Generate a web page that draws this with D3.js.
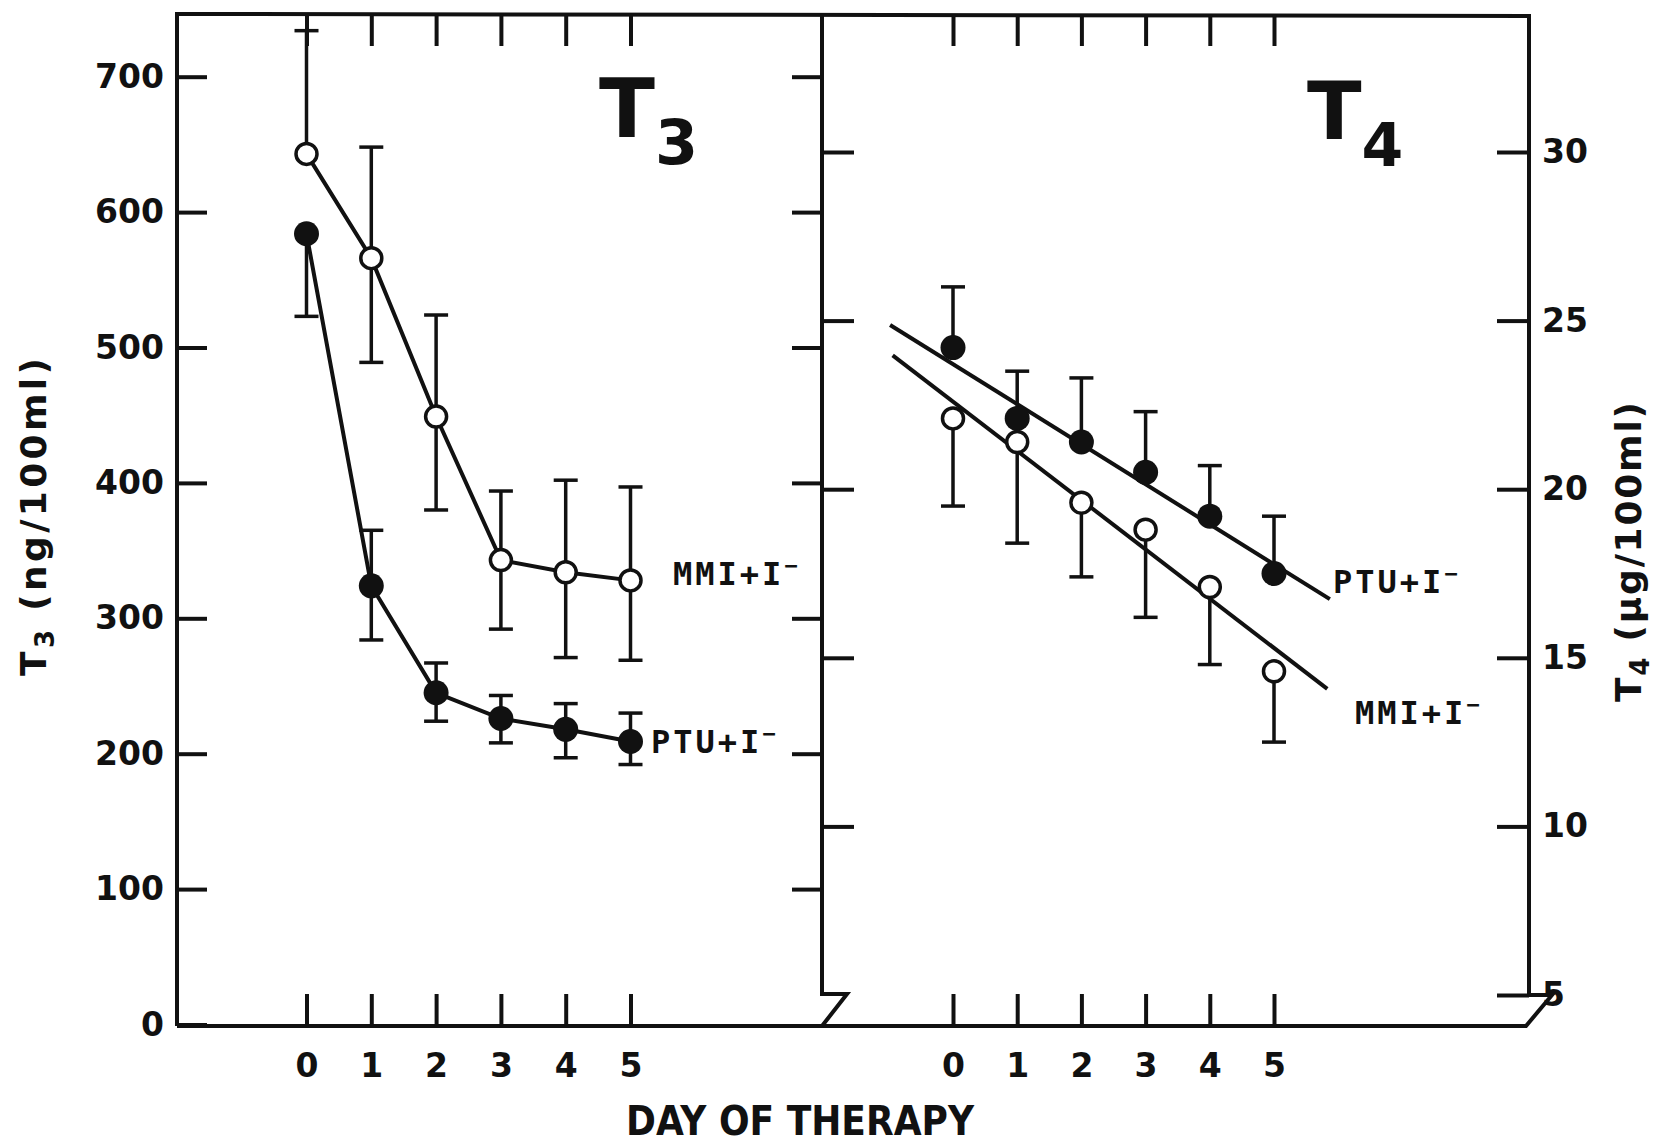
<!DOCTYPE html>
<meta charset="utf-8">
<style>
  body { margin: 0; background: #fff; }
  svg { display: block; }
  .axis text { font-family: "DejaVu Sans", sans-serif; font-weight: bold; font-size: 33px; fill: #111; }
  .axis line { stroke: #111; stroke-width: 4px; }
  .axis .domain { display: none; }
  .frame { fill: none; stroke: #111; stroke-width: 4px; }
  .curve { fill: none; stroke: #111; stroke-width: 4px; }
  .bar { stroke: #111; stroke-width: 3.5px; }
  .lab { font-family: "DejaVu Sans Mono", monospace; font-weight: bold; font-size: 32px; letter-spacing: 3px; fill: #111; }
  .big { font-family: "DejaVu Sans", sans-serif; font-weight: bold; fill: #111; }
</style>
<body></body>
<script src="https://d3js.org/d3.v7.min.js"></script>
<script>
  var days = [0, 1, 2, 3, 4, 5];

  // T3 panel (ng/100ml)
  var t3MMI = [643, 566, 449, 343, 334, 328];
  var t3MMIHi = [734, 648, 524, 394, 402, 397];
  var t3MMILo = [null, 489, 380, 292, 271, 269];
  var t3PTU = [584, 324, 245, 226, 218, 209];
  var t3PTUHi = [null, 365, 267, 243, 237, 230];
  var t3PTULo = [523, 284, 224, 208, 197, 192];
  var t3Ticks = [0, 100, 200, 300, 400, 500, 600, 700];

  // T4 panel (ug/100ml)
  var t4PTU = [24.2, 22.1, 21.4, 20.5, 19.2, 17.5];
  var t4PTUHi = [26.0, 23.5, 23.3, 22.3, 20.7, 19.2];
  var t4MMI = [22.1, 21.4, 19.6, 18.8, 17.1, 14.6];
  var t4MMILo = [19.5, 18.4, 17.4, 16.2, 14.8, 12.5];
  var t4Ticks = [5, 10, 15, 20, 25, 30];
  // fitted lines as drawn (day, value at each end)
  var t4PTUFitDays = [-0.98, 5.87], t4PTUFitVals = [24.87, 16.74];
  var t4MMIFitDays = [-0.94, 5.83], t4MMIFitVals = [23.97, 14.08];

  var W = 1657, H = 1145;
  var leftX = 177, midX = 822, rightX = 1529, topY = 14, botY = 1026;

  var xL = d3.scaleLinear().domain([0, 5]).range([306.5, 630.5]);
  var xR = d3.scaleLinear().domain([0, 5]).range([953, 1274]);
  var yL = d3.scaleLinear().domain([0, 700]).range([1024.5, 76.7]);
  var yR = d3.scaleLinear().domain([5, 30]).range([995, 152]);

  var svg = d3.select("body").append("svg")
    .attr("width", W)
    .attr("height", H);

  // frame with axis breaks at the lower corners
  svg.append("path").attr("class", "frame")
    .attr("d", "M" + leftX + "," + botY + "V" + topY + "L" + rightX + "," + (topY + 2) + "V994");
  svg.append("path").attr("class", "frame")
    .attr("d", "M" + leftX + "," + botY + "H1526L1552,995H" + rightX);
  svg.append("path").attr("class", "frame")
    .attr("d", "M" + midX + "," + topY + "V994H847L" + midX + "," + botY);

  // axes
  svg.append("g").attr("class", "axis")
    .attr("transform", "translate(" + leftX + ",0)")
    .call(d3.axisLeft(yL).tickValues(t3Ticks).tickSize(-30).tickPadding(13));
  svg.append("g").attr("class", "axis")
    .attr("transform", "translate(" + midX + ",0)")
    .call(d3.axisRight(yL).tickValues(t3Ticks.slice(1)).tickSize(-30).tickFormat(""));
  svg.append("g").attr("class", "axis")
    .attr("transform", "translate(" + midX + ",0)")
    .call(d3.axisLeft(yR).tickValues(t4Ticks.slice(1)).tickSize(-32).tickFormat(""));
  svg.append("g").attr("class", "axis")
    .attr("transform", "translate(" + rightX + ",0)")
    .call(d3.axisRight(yR).tickValues(t4Ticks).tickSize(-32).tickPadding(13));

  svg.append("g").attr("class", "axis")
    .attr("transform", "translate(0," + topY + ")")
    .call(d3.axisBottom(xL).tickValues(days).tickSize(32).tickFormat(""));
  svg.append("g").attr("class", "axis")
    .attr("transform", "translate(0," + (topY + 1) + ")")
    .call(d3.axisBottom(xR).tickValues(days).tickSize(31).tickFormat(""));
  svg.append("g").attr("class", "axis")
    .attr("transform", "translate(0," + botY + ")")
    .call(d3.axisBottom(xL).tickValues(days).tickSize(-32).tickPadding(28).tickFormat(d3.format("d")));
  svg.append("g").attr("class", "axis")
    .attr("transform", "translate(0," + botY + ")")
    .call(d3.axisBottom(xR).tickValues(days).tickSize(-32).tickPadding(28).tickFormat(d3.format("d")));

  // error bars, one side or both
  function bars(x, y, vals, hi, lo) {
    var g = svg.append("g");
    days.forEach(function(d, i) {
      [hi, lo].forEach(function(arr) {
        if (!arr || arr[i] == null) return;
        g.append("line").attr("class", "bar")
          .attr("x1", x(d)).attr("x2", x(d))
          .attr("y1", y(vals[i])).attr("y2", y(arr[i]));
        g.append("line").attr("class", "bar")
          .attr("x1", x(d) - 12).attr("x2", x(d) + 12)
          .attr("y1", y(arr[i])).attr("y2", y(arr[i]));
      });
    });
  }

  function dots(x, y, vals, filled) {
    svg.append("g").selectAll("circle")
      .data(vals)
      .enter().append("circle")
      .attr("cx", function(v, i) { return x(days[i]); })
      .attr("cy", function(v) { return y(v); })
      .attr("r", filled ? 12.5 : 10.5)
      .style("fill", filled ? "#111" : "#fff")
      .style("stroke", "#111")
      .style("stroke-width", filled ? 0 : 3.5);
  }

  // T3 panel
  var lineL = d3.line()
    .x(function(v, i) { return xL(days[i]); })
    .y(function(v) { return yL(v); });
  svg.append("path").attr("class", "curve").attr("d", lineL(t3MMI));
  svg.append("path").attr("class", "curve").attr("d", lineL(t3PTU));
  bars(xL, yL, t3MMI, t3MMIHi, t3MMILo);
  bars(xL, yL, t3PTU, t3PTUHi, t3PTULo);
  dots(xL, yL, t3PTU, true);
  dots(xL, yL, t3MMI, false);

  // T4 panel
  function fit(ds, vs) {
    svg.append("line").attr("class", "curve")
      .attr("x1", xR(ds[0])).attr("y1", yR(vs[0]))
      .attr("x2", xR(ds[1])).attr("y2", yR(vs[1]));
  }
  fit(t4PTUFitDays, t4PTUFitVals);
  fit(t4MMIFitDays, t4MMIFitVals);
  bars(xR, yR, t4PTU, t4PTUHi, null);
  bars(xR, yR, t4MMI, null, t4MMILo);
  dots(xR, yR, t4PTU, true);
  dots(xR, yR, t4MMI, false);

  // series labels
  function seriesLabel(x, y, name) {
    var t = svg.append("text").attr("class", "lab").attr("x", x).attr("y", y).text(name);
    t.append("tspan").attr("dy", -12).style("font-size", "22px").text("\u2212");
  }
  seriesLabel(673, 585, "MMI+I");
  seriesLabel(651, 753, "PTU+I");
  seriesLabel(1333, 593, "PTU+I");
  seriesLabel(1355, 724, "MMI+I");

  // panel titles
  function panelTitle(x, y, size, sub) {
    var t = svg.append("text").attr("class", "big")
      .attr("x", x).attr("y", y)
      .style("font-size", size + "px")
      .text("T");
    t.append("tspan")
      .attr("dy", 27)
      .style("font-size", Math.round(size * 0.75) + "px")
      .text(sub);
  }
  panelTitle(599, 137, 82, "3");
  panelTitle(1307, 139, 80, "4");

  // axis titles
  function yTitle(x, y, sub, unit, len) {
    var t = svg.append("text").attr("class", "big")
      .attr("transform", "translate(" + x + "," + y + ") rotate(-90)")
      .attr("text-anchor", "middle")
      .attr("textLength", len)
      .attr("lengthAdjust", "spacing")
      .style("font-size", "36px");
    t.append("tspan").text("T");
    t.append("tspan").attr("dy", 8).style("font-size", "26px").text(sub);
    t.append("tspan").attr("dy", -8).text(" (" + unit + ")");
  }
  yTitle(46, 517, "3", "ng/100ml", 318);
  yTitle(1641, 552, "4", "\u03bcg/100ml", 300);

  svg.append("text").attr("class", "big")
    .attr("x", 800).attr("y", 1135)
    .attr("text-anchor", "middle")
    .attr("textLength", 348)
    .attr("lengthAdjust", "spacingAndGlyphs")
    .style("font-size", "40px")
    .text("DAY OF THERAPY");
</script>
